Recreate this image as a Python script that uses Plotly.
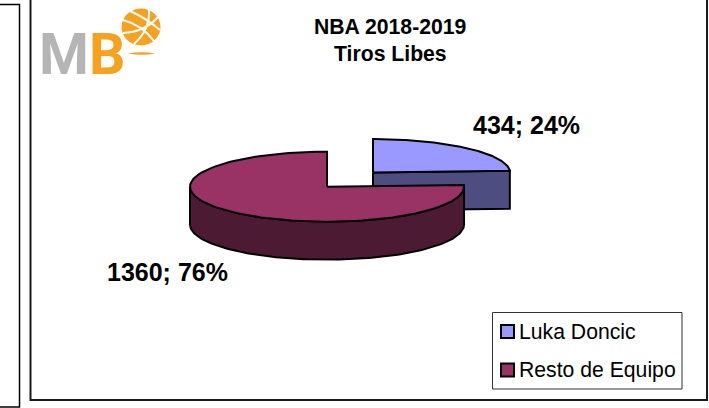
"""
NBA 2018-2019 Tiros Libes: tarta 3D con logo MB
Plotly no tiene tarta 3D, asi que las caras salen de los valores con Scatter
"""
import numpy as np
import plotly.graph_objects as go

LABELS = ['Luka Doncic', 'Resto de Equipo']
VALUES = [434, 1360]
PERCENTS = [24, 76]
TITLE_LINES = ['NBA 2018-2019', 'Tiros Libes']

COLORS_TOP = ['#9999FF', '#993366']
COLORS_SIDE = ['#4D4D80', '#4D1A33']
LINE = '#000000'
ORANGE = '#F8A11F'
GRAY = '#B5B5B5'

W, H = 709, 408

# geometria de cada porcion en pixeles (la primera va separada)
CENTERS = [(373, 172.5), (327, 186.7)]
RADII = [(137, 33.5), (137, 35)]
DEPTH = 38

fig = go.Figure()


def arc(cx, cy, rx, ry, a0, a1, dy=0.0):
    # angulo en grados desde las 12 en sentido horario
    t = np.radians(np.linspace(a0, a1, 120))
    return cx + rx * np.sin(t), cy - ry * np.cos(t) + dy


def face(x, y, color, name):
    fig.add_trace(go.Scatter(
        x=x, y=y, mode='lines', fill='toself', fillcolor=color,
        line=dict(color=LINE, width=2), name=name, hoverinfo='name',
        showlegend=False,
    ))


total = sum(VALUES)
start = 0.0
for i, value in enumerate(VALUES):
    end = start + 360 * value / total
    cx, cy = CENTERS[i]
    rx, ry = RADII[i]

    if i == 0:
        # pared del corte, hacia delante
        ex, ey = arc(cx, cy, rx, ry, end, end)
        face([cx, ex[0], ex[0], cx, cx], [cy, ey[0], ey[0] + DEPTH, cy + DEPTH, cy],
             COLORS_SIDE[i], LABELS[i])
    else:
        # pared exterior, solo la mitad visible
        xa, ya = arc(cx, cy, rx, ry, 90, 270)
        xb, yb = arc(cx, cy, rx, ry, 270, 90, DEPTH)
        face(np.r_[xa, xb, xa[0]], np.r_[ya, yb, ya[0]], COLORS_SIDE[i], LABELS[i])

    xt, yt = arc(cx, cy, rx, ry, start, end)
    face(np.r_[cx, xt, cx], np.r_[cy, yt, cy], COLORS_TOP[i], LABELS[i])
    start = end

white_line = dict(color='white', width=2)
shapes = [
    # marcos del fondo
    dict(type='rect', x0=-5, y0=4.5, x1=19.5, y1=407, line=dict(color='#000000', width=1.5), layer='below'),
    dict(type='rect', x0=30.5, y0=-5, x1=707, y1=400, line=dict(color='#1A1A1A', width=2), layer='below'),
    # logo: balon y raya
    dict(type='circle', x0=121.5, y0=8.5, x1=160.5, y1=45.5, fillcolor=ORANGE, line_width=0, layer='below'),
    dict(type='path', path='M 123 20 Q 142 25 154 41', line=white_line, layer='below'),
    dict(type='path', path='M 130 11 Q 146 18 160 30', line=white_line, layer='below'),
    dict(type='path', path='M 123 33 Q 145 32 158 17', line=white_line, layer='below'),
    dict(type='path', path='M 134 44 Q 150 30 149 10', line=white_line, layer='below'),
    dict(type='path', path='M 128 53.5 Q 142 51 155 53.5 Q 142 56 128 53.5 Z', fillcolor=ORANGE, line_width=0, layer='below'),
    # caja de la leyenda
    dict(type='rect', x0=492.5, y0=312.5, x1=682, y1=389, fillcolor='white', line=dict(color='#333333', width=1)),
]

# logo como un solo texto con dos colores
annotations = [dict(
    x=37, y=54, xanchor='left', showarrow=False,
    text=f'<span style="color:{GRAY}"><b>M</b></span><span style="color:{ORANGE}"><b>B</b></span>',
    font=dict(family='Roboto', size=57),
)]

# titulo
for line, y in zip(TITLE_LINES, [26, 53]):
    annotations.append(dict(
        x=390, y=y, text=f'<b>{line}</b>', showarrow=False,
        font=dict(family='Liberation Sans', size=21.2, color='black'),
    ))

# etiquetas de datos
for i, (x, y) in enumerate([(526, 125), (167, 272)]):
    annotations.append(dict(
        x=x, y=y, text=f'<b>{VALUES[i]}; {PERCENTS[i]}%</b>', showarrow=False,
        font=dict(family='Liberation Sans', size=25, color='black'),
    ))

# leyenda a mano para clavar la caja y el espacio entre filas
for i, y in enumerate([331.5, 370]):
    shapes.append(dict(
        type='rect', x0=501, y0=y - 6.5, x1=514, y1=y + 6.5,
        fillcolor=COLORS_TOP[i], line=dict(color='black', width=2),
    ))
    annotations.append(dict(
        x=516.5, y=y, text=LABELS[i], showarrow=False, xanchor='left',
        font=dict(family='Liberation Sans', size=21.2, color='black'),
    ))

fig.update_layout(
    width=W, height=H,
    margin=dict(l=0, r=0, t=0, b=0),
    paper_bgcolor='white',
    plot_bgcolor='white',
    showlegend=False,
    shapes=shapes,
    annotations=annotations,
    xaxis=dict(range=[0, W], visible=False, fixedrange=True),
    yaxis=dict(range=[H, 0], visible=False, fixedrange=True),
)

# sin el margen del body la figura cae justo en la ventana
fig.write_html("out.html", config=dict(displayModeBar=False),
               post_script="document.body.style.margin='0';")
